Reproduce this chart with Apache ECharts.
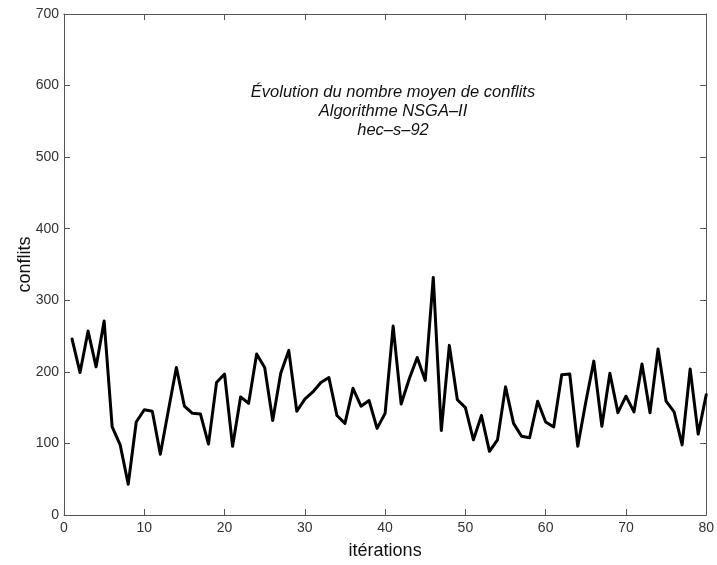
<!DOCTYPE html>
<html>
<head>
<meta charset="utf-8">
<script src="https://cdn.jsdelivr.net/npm/echarts@6/dist/echarts.min.js"></script>
<style>html,body{margin:0;padding:0;background:#fff}#c{width:717px;height:565px}</style>
</head>
<body>
<div id="c"></div>
<script>
const iterations = Array.from({length: 80}, (_, i) => i + 1);
const conflits = [
  246, 199, 257, 207, 271, 123, 98, 43, 130, 147,
  145, 85, 146, 206, 152, 142, 141, 99, 185, 197,
  96, 165, 156, 225, 206, 132, 198, 230, 145, 162,
  172, 185, 192, 139, 128, 177, 152, 160, 121, 142,
  264, 155, 190, 220, 188, 332, 118, 237, 161, 150,
  105, 139, 89, 105, 179, 128, 110, 108, 159, 130,
  123, 196, 197, 96, 158, 215, 124, 198, 143, 166,
  144, 211, 143, 232, 159, 144, 98, 204, 113, 168
];
const titleLines = ["Évolution du nombre moyen de conflits", "Algorithme NSGA\u2013II", "hec\u2013s\u201392"];
const xName = "itérations";
const yName = "conflits";

const axisColor = '#555';
const font = 'Liberation Sans, Arial, sans-serif';
const chart = echarts.init(document.getElementById('c'), null, {renderer: 'canvas'});
const axisBase = {
  type: 'value',
  axisLine: {show: true, onZero: false, lineStyle: {color: axisColor, width: 1}},
  axisTick: {show: true, inside: true, length: 6, lineStyle: {color: axisColor}},
  splitLine: {show: false},
  axisLabel: {color: '#333', fontSize: 14, fontFamily: font}
};
chart.setOption({
  animation: false,
  backgroundColor: '#fff',
  title: {
    text: titleLines.join('\n'),
    left: 388, top: 78, textAlign: 'center',
    textStyle: {fontSize: 16.5, fontStyle: 'italic', fontWeight: 'normal', color: '#111',
      fontFamily: font, lineHeight: 19}
  },
  grid: {left: 64, right: 8, top: 14, bottom: 43, containLabel: false},
  xAxis: [
    Object.assign({}, axisBase, {min: 0, max: 80, interval: 10, position: 'bottom',
      name: xName, nameLocation: 'middle', nameGap: 27, nameMoveOverlap: false,
      nameTextStyle: {fontSize: 18, color: '#111', fontFamily: font},
      axisLabel: Object.assign({}, axisBase.axisLabel, {margin: 6})}),
    Object.assign({}, axisBase, {min: 0, max: 80, interval: 10, position: 'top',
      axisLabel: {show: false}})
  ],
  yAxis: [
    Object.assign({}, axisBase, {min: 0, max: 700, interval: 100, position: 'left',
      name: yName, nameLocation: 'middle', nameGap: 30, nameMoveOverlap: false,
      nameTextStyle: {fontSize: 18, color: '#111', fontFamily: font},
      axisLabel: Object.assign({}, axisBase.axisLabel, {margin: 5})}),
    Object.assign({}, axisBase, {min: 0, max: 700, interval: 100, position: 'right',
      axisLabel: {show: false}})
  ],
  series: [{
    type: 'line',
    data: iterations.map((x, i) => [x, conflits[i]]),
    showSymbol: false,
    lineStyle: {color: '#000', width: 3, join: 'round', cap: 'round'},
    xAxisIndex: 0, yAxisIndex: 0
  }]
});
</script>
</body>
</html>
